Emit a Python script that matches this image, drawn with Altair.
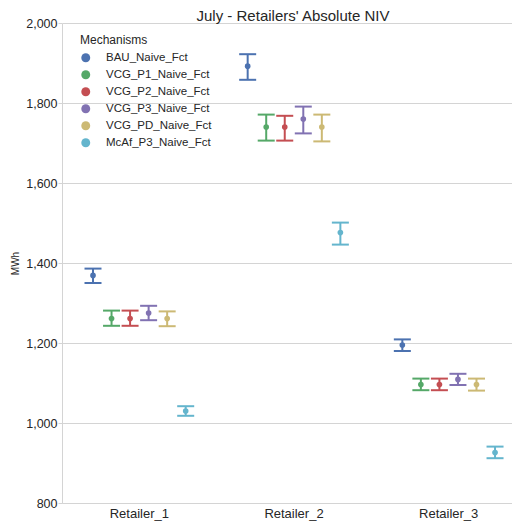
import altair as alt
import pandas as pd

retailers = ["Retailer_1", "Retailer_2", "Retailer_3"]
mechanisms = ["BAU_Naive_Fct", "VCG_P1_Naive_Fct", "VCG_P2_Naive_Fct",
              "VCG_P3_Naive_Fct", "VCG_PD_Naive_Fct", "McAf_P3_Naive_Fct"]
colors = ["#4C72B0", "#55A868", "#C44E52", "#8172B2", "#CCB974", "#64B5CD"]

mean_r1 = [1369, 1261, 1261, 1275, 1261, 1030]
lo_r1 = [1350, 1243, 1243, 1257, 1242, 1018]
hi_r1 = [1386, 1281, 1281, 1293, 1279, 1042]

mean_r2 = [1892, 1740, 1740, 1760, 1740, 1476]
lo_r2 = [1858, 1706, 1706, 1724, 1704, 1446]
hi_r2 = [1922, 1771, 1768, 1791, 1771, 1501]

mean_r3 = [1195, 1096, 1096, 1109, 1096, 926]
lo_r3 = [1180, 1082, 1082, 1095, 1081, 912]
hi_r3 = [1209, 1111, 1111, 1123, 1111, 941]

y_ticks = [800, 1000, 1200, 1400, 1600, 1800, 2000]

rows = []
for r, means, los, his in zip(retailers, [mean_r1, mean_r2, mean_r3],
                              [lo_r1, lo_r2, lo_r3], [hi_r1, hi_r2, hi_r3]):
    for m, mv, lv, hv in zip(mechanisms, means, los, his):
        rows.append({"retailer": r, "mechanism": m, "mech_line": m,
                     "mean": mv, "lo": lv, "hi": hv})
df = pd.DataFrame(rows)

FONT = "Liberation Sans"
TEXT = "#262626"
GRID = "#d4d4d4"

yscale = alt.Scale(domain=[800, 2000], nice=False, zero=False)
yaxis = alt.Axis(values=y_ticks, format=",d", title="MWh", titleFontSize=10,
                 titleFontWeight="normal", titleColor=TEXT, titlePadding=5,
                 labelFontSize=12.5, labelPadding=1, tickSize=4)

base = alt.Chart(df).encode(
    x=alt.X("retailer:N", sort=retailers,
            scale=alt.Scale(range=[0, 464], paddingInner=0, paddingOuter=0),
            axis=alt.Axis(title=None, labelAngle=0, ticks=False, grid=False,
                          labelFontSize=13, labelPadding=4)),
    xOffset=alt.XOffset("mechanism:N", sort=mechanisms,
                        scale=alt.Scale(type="point", range=[31, 123.7], padding=0)),
)

cscale = alt.Scale(domain=mechanisms, range=colors)
lscale = alt.Scale(range=colors)

rules = base.mark_rule(strokeWidth=2, opacity=1).encode(
    y=alt.Y("lo:Q", scale=yscale, axis=yaxis),
    y2="hi:Q",
    stroke=alt.Stroke("mech_line:N", sort=mechanisms, scale=lscale, legend=None),
)
caps_top = base.mark_tick(thickness=2, size=17, opacity=1).encode(
    y=alt.Y("hi:Q", scale=yscale, axis=yaxis),
    fill=alt.Fill("mech_line:N", sort=mechanisms, scale=lscale, legend=None))
caps_bot = base.mark_tick(thickness=2, size=17, opacity=1).encode(
    y=alt.Y("lo:Q", scale=yscale, axis=yaxis),
    fill=alt.Fill("mech_line:N", sort=mechanisms, scale=lscale, legend=None))
points = base.mark_circle(size=32, opacity=1).encode(
    y=alt.Y("mean:Q", scale=yscale, axis=yaxis),
    color=alt.Color("mechanism:N", sort=mechanisms, scale=cscale,
                    legend=alt.Legend(title="Mechanisms", orient="none",
                                      legendX=18, legendY=12,
                                      titleFontSize=12, titleFontWeight="normal",
                                      titleColor=TEXT, titleFont=FONT, titlePadding=5,
                                      labelFontSize=11.5, labelColor=TEXT, labelFont=FONT,
                                      labelOffset=14.5, symbolType="circle",
                                      symbolSize=80, symbolOpacity=1,
                                      symbolStrokeWidth=0, rowPadding=4)),
)

chart = alt.layer(rules, caps_top, caps_bot, points).properties(
    width=450, height=480,
    title=alt.TitleParams("July - Retailers' Absolute NIV", fontSize=15,
                          fontWeight="normal", font=FONT, color=TEXT,
                          anchor="middle", offset=-7, frame="group", dx=6),
    autosize=alt.AutoSizeParams(type="none"),
    padding={"left": 54, "top": 15, "right": 0, "bottom": 20},
).configure_axis(
    labelFont=FONT, titleFont=FONT, labelColor=TEXT,
    domainColor=GRID, gridColor=GRID, tickColor=GRID,
).configure_view(strokeWidth=0)

chart.save("out.html", embed_options={"renderer": "svg", "actions": False})
